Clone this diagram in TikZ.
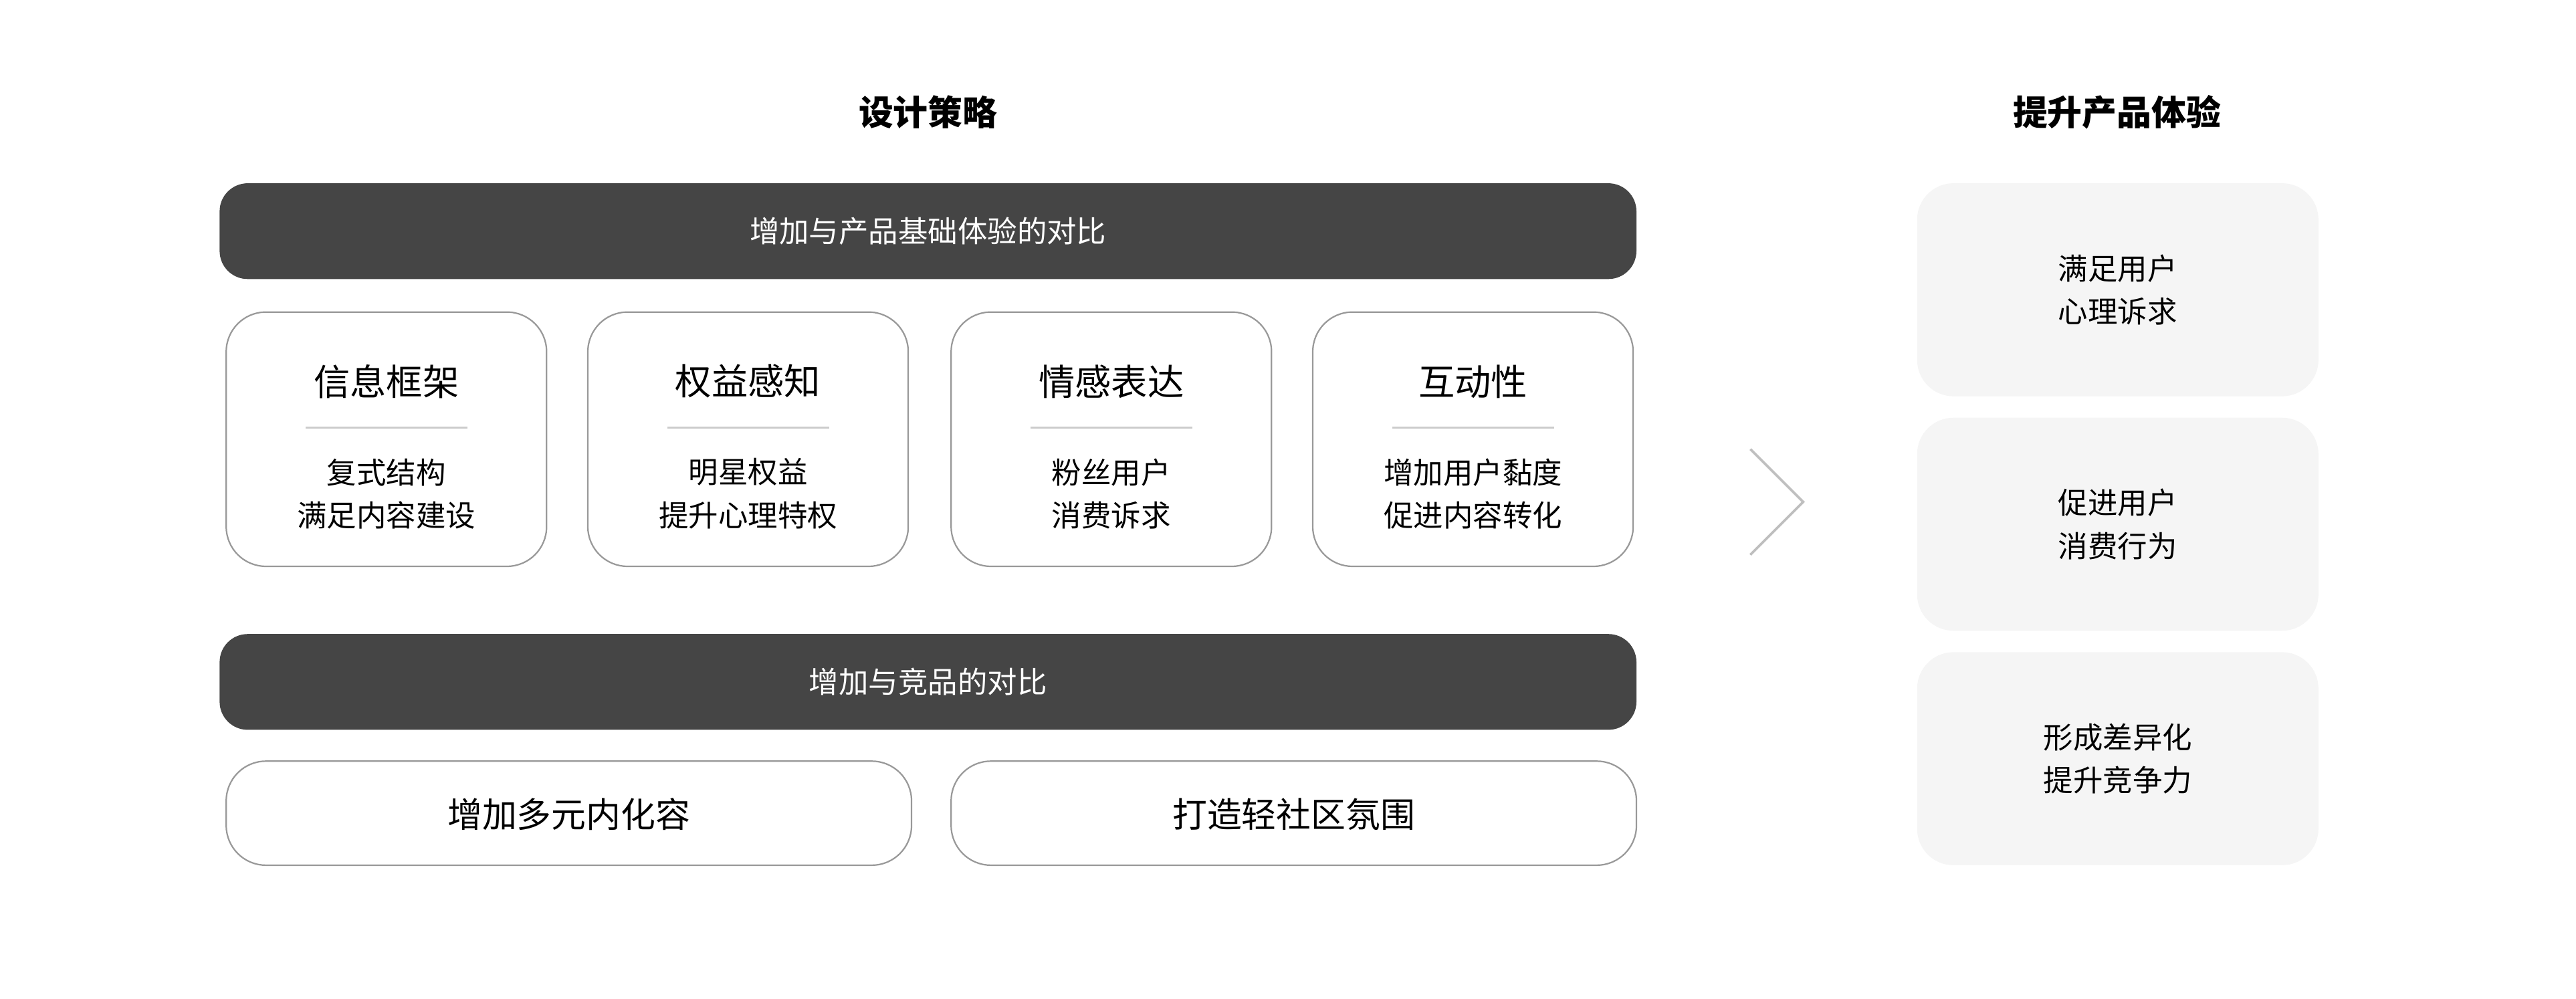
\documentclass[tikz,border=0pt]{standalone}
\usepackage{fontspec}
\setmainfont{Noto Sans CJK SC}
\newfontfamily\cjkb[BoldFont={Noto Sans CJK SC Bold}]{Noto Sans CJK SC}
\begin{document}
\begin{tikzpicture}[x=1pt,y=-1pt,
  darkbar/.style={fill=black!73,rounded corners=17pt},
  card/.style={draw=black!40,line width=0.9pt,rounded corners=24pt},
  softbox/.style={fill=black!4,rounded corners=22pt},
  txt/.style={font=\fontsize{18}{26}\selectfont,align=center},
]
\useasboundingbox[fill=white] (0,0) rectangle (1560,605);
\node[font=\fontsize{21}{26}\selectfont\bfseries] (t1) at (562,68) {设计策略};
\node[font=\fontsize{21}{26}\selectfont\bfseries] (t2) at (1282,68) {提升产品体验};
\path[darkbar] (133,111) rectangle (991,169);
\node[txt,text=white] (b1) at (562,140) {增加与产品基础体验的对比};
\path[darkbar] (133,384) rectangle (991,442);
\node[txt,text=white] (b2) at (562,413) {增加与竞品的对比};
\foreach \x/\t/\a/\b [count=\i] in {137/信息框架/复式结构/满足内容建设,356/权益感知/明星权益/提升心理特权,576/情感表达/粉丝用户/消费诉求,795/互动性/增加用户黏度/促进内容转化}{
  \draw[card] (\x,189) rectangle ++(194,154);
  \node[font=\fontsize{22}{26}\selectfont] (c\i) at (\x+97,231) {\t};
  \draw[black!20,line width=0.9pt] (\x+48,259) -- (\x+146,259);
  \node[txt] (s\i) at (\x+97,299) {\a\\\b};
}
\draw[card] (137,461) rectangle (552,524);
\node[font=\fontsize{21}{26}\selectfont] (d1) at (344.5,493) {增加多元内化容};
\draw[card] (576,461) rectangle (991,524);
\node[font=\fontsize{21}{26}\selectfont] (d2) at (783.5,493) {打造轻社区氛围};
\coordinate (ch1) at (1060,272); \coordinate (ch2) at (1092,304); \coordinate (ch3) at (1060,336);
\draw[black!25,line width=1.5pt] (ch1) -- (ch2) -- (ch3);
\foreach \y/\a/\b [count=\i] in {111/满足用户/心理诉求,253/促进用户/消费行为,395/形成差异化/提升竞争力}{
  \path[softbox] (1161,\y) rectangle ++(243,129);
  \node[txt] (r\i) at (1282.5,\y+64.5) {\a\\\b};
}
\end{tikzpicture}
\end{document}
